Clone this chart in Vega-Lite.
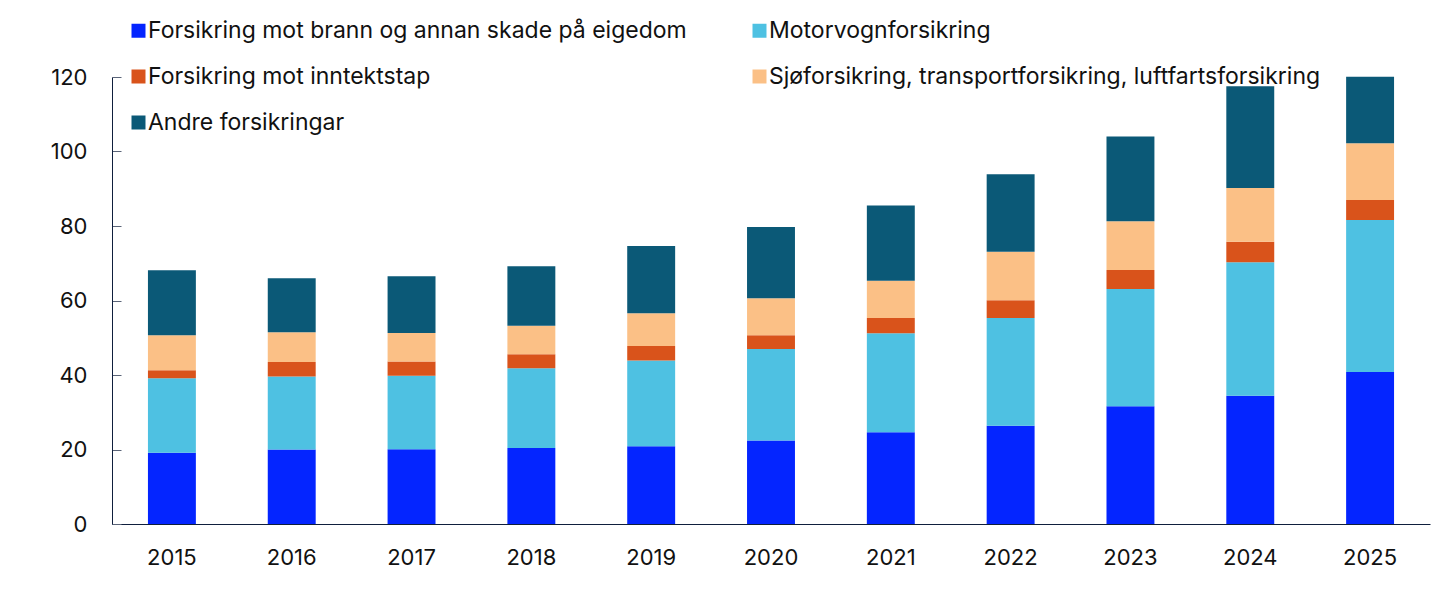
{
  "$schema": "https://vega.github.io/schema/vega-lite/v6.json",
  "width": 1318,
  "height": 447,
  "autosize": "none",
  "padding": {"left": 112, "top": 77, "right": 15, "bottom": 72},
  "background": "white",
  "config": {
    "view": {"stroke": null},
    "font": "Inter"
  },
  "data": {
    "values": [
      {"year": "2015", "type": "Forsikring mot brann og annan skade på eigedom", "value": 19.1},
      {"year": "2015", "type": "Motorvognforsikring", "value": 20.0},
      {"year": "2015", "type": "Forsikring mot inntektstap", "value": 2.2},
      {"year": "2015", "type": "Sjøforsikring, transportforsikring, luftfartsforsikring", "value": 9.4},
      {"year": "2015", "type": "Andre forsikringar", "value": 17.4},
      {"year": "2016", "type": "Forsikring mot brann og annan skade på eigedom", "value": 20.0},
      {"year": "2016", "type": "Motorvognforsikring", "value": 19.6},
      {"year": "2016", "type": "Forsikring mot inntektstap", "value": 3.9},
      {"year": "2016", "type": "Sjøforsikring, transportforsikring, luftfartsforsikring", "value": 8.0},
      {"year": "2016", "type": "Andre forsikringar", "value": 14.5},
      {"year": "2017", "type": "Forsikring mot brann og annan skade på eigedom", "value": 20.1},
      {"year": "2017", "type": "Motorvognforsikring", "value": 19.7},
      {"year": "2017", "type": "Forsikring mot inntektstap", "value": 3.8},
      {"year": "2017", "type": "Sjøforsikring, transportforsikring, luftfartsforsikring", "value": 7.7},
      {"year": "2017", "type": "Andre forsikringar", "value": 15.2},
      {"year": "2018", "type": "Forsikring mot brann og annan skade på eigedom", "value": 20.4},
      {"year": "2018", "type": "Motorvognforsikring", "value": 21.4},
      {"year": "2018", "type": "Forsikring mot inntektstap", "value": 3.8},
      {"year": "2018", "type": "Sjøforsikring, transportforsikring, luftfartsforsikring", "value": 7.6},
      {"year": "2018", "type": "Andre forsikringar", "value": 16.0},
      {"year": "2019", "type": "Forsikring mot brann og annan skade på eigedom", "value": 20.9},
      {"year": "2019", "type": "Motorvognforsikring", "value": 23.0},
      {"year": "2019", "type": "Forsikring mot inntektstap", "value": 3.9},
      {"year": "2019", "type": "Sjøforsikring, transportforsikring, luftfartsforsikring", "value": 8.8},
      {"year": "2019", "type": "Andre forsikringar", "value": 18.0},
      {"year": "2020", "type": "Forsikring mot brann og annan skade på eigedom", "value": 22.4},
      {"year": "2020", "type": "Motorvognforsikring", "value": 24.6},
      {"year": "2020", "type": "Forsikring mot inntektstap", "value": 3.7},
      {"year": "2020", "type": "Sjøforsikring, transportforsikring, luftfartsforsikring", "value": 9.9},
      {"year": "2020", "type": "Andre forsikringar", "value": 19.1},
      {"year": "2021", "type": "Forsikring mot brann og annan skade på eigedom", "value": 24.6},
      {"year": "2021", "type": "Motorvognforsikring", "value": 26.6},
      {"year": "2021", "type": "Forsikring mot inntektstap", "value": 4.1},
      {"year": "2021", "type": "Sjøforsikring, transportforsikring, luftfartsforsikring", "value": 10.0},
      {"year": "2021", "type": "Andre forsikringar", "value": 20.2},
      {"year": "2022", "type": "Forsikring mot brann og annan skade på eigedom", "value": 26.4},
      {"year": "2022", "type": "Motorvognforsikring", "value": 28.9},
      {"year": "2022", "type": "Forsikring mot inntektstap", "value": 4.8},
      {"year": "2022", "type": "Sjøforsikring, transportforsikring, luftfartsforsikring", "value": 13.0},
      {"year": "2022", "type": "Andre forsikringar", "value": 20.8},
      {"year": "2023", "type": "Forsikring mot brann og annan skade på eigedom", "value": 31.6},
      {"year": "2023", "type": "Motorvognforsikring", "value": 31.5},
      {"year": "2023", "type": "Forsikring mot inntektstap", "value": 5.1},
      {"year": "2023", "type": "Sjøforsikring, transportforsikring, luftfartsforsikring", "value": 13.1},
      {"year": "2023", "type": "Andre forsikringar", "value": 22.7},
      {"year": "2024", "type": "Forsikring mot brann og annan skade på eigedom", "value": 34.4},
      {"year": "2024", "type": "Motorvognforsikring", "value": 35.9},
      {"year": "2024", "type": "Forsikring mot inntektstap", "value": 5.5},
      {"year": "2024", "type": "Sjøforsikring, transportforsikring, luftfartsforsikring", "value": 14.4},
      {"year": "2024", "type": "Andre forsikringar", "value": 27.3},
      {"year": "2025", "type": "Forsikring mot brann og annan skade på eigedom", "value": 40.8},
      {"year": "2025", "type": "Motorvognforsikring", "value": 40.8},
      {"year": "2025", "type": "Forsikring mot inntektstap", "value": 5.4},
      {"year": "2025", "type": "Sjøforsikring, transportforsikring, luftfartsforsikring", "value": 15.2},
      {"year": "2025", "type": "Andre forsikringar", "value": 17.9}
    ]
  },
  "transform": [
    {"calculate": "indexof(['Forsikring mot brann og annan skade på eigedom','Motorvognforsikring','Forsikring mot inntektstap','Sjøforsikring, transportforsikring, luftfartsforsikring','Andre forsikringar'], datum.type)", "as": "ord"}
  ],
  "mark": {"type": "bar"},
  "encoding": {
    "x": {
      "field": "year", "type": "ordinal",
      "scale": {"paddingInner": 0.6, "paddingOuter": 0.3},
      "axis": {
        "title": null, "labelAngle": 0, "ticks": false, "domainColor": "#0f1f3d",
        "labelFontSize": 22, "labelColor": "#111111", "labelPadding": 23, "grid": false
      }
    },
    "y": {
      "field": "value", "type": "quantitative", "stack": "zero",
      "scale": {"domain": [0, 120], "nice": false},
      "axis": {
        "title": null, "values": [0, 20, 40, 60, 80, 100, 120], "grid": false,
        "domainColor": "#0f1f3d", "tickColor": "#5a6478", "tickSize": -9,
        "labelFontSize": 22, "labelColor": "#111111", "labelPadding": 34
      }
    },
    "color": {
      "field": "type", "type": "nominal",
      "scale": {
        "domain": ["Forsikring mot brann og annan skade på eigedom", "Motorvognforsikring", "Forsikring mot inntektstap", "Sjøforsikring, transportforsikring, luftfartsforsikring", "Andre forsikringar"],
        "range": ["#0425ff", "#4ec1e2", "#d9531b", "#fbc086", "#0b5977"]
      },
      "legend": {
        "title": null, "orient": "none", "legendX": 15, "legendY": -58,
        "direction": "horizontal",
        "columns": 2, "symbolType": "square", "symbolSize": 196,
        "symbolStrokeWidth": 0, "labelFontSize": 23, "labelColor": "#111111",
        "labelLimit": 800, "rowPadding": 22, "columnPadding": 61, "labelOffset": -2,
        "padding": 0
      }
    },
    "order": {"field": "ord", "type": "quantitative"}
  }
}
